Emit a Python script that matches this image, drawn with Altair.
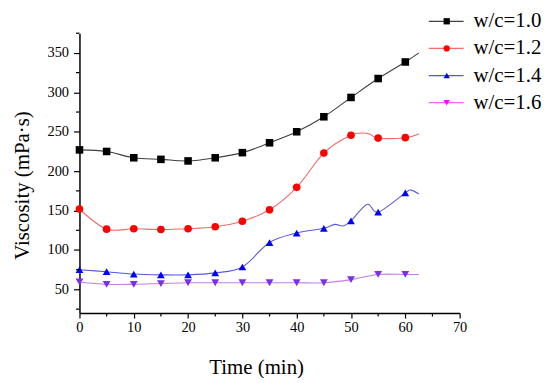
import altair as alt
import pandas as pd

series = ["w/c=1.0", "w/c=1.2", "w/c=1.4", "w/c=1.6"]

# marker readings
time = [0, 5, 10, 15, 20, 25, 30, 35, 40, 45, 50, 55, 60]
visc_10 = [227, 225, 217, 215, 213, 217, 223.5, 236, 250, 269, 293.5, 317.5, 338.5]
visc_12 = [152, 126.5, 127, 126, 127, 129.5, 136.5, 151, 179.5, 223, 245.5, 242, 242.5]
visc_14 = [75, 72.5, 69.5, 68.5, 68.5, 71, 78.5, 109.5, 121.5, 127.5, 137, 148, 172.5]
visc_16 = [59.5, 56.5, 56.5, 57.5, 58.5, 58.5, 58.5, 58.5, 58.5, 58.5, 62.5, 69, 69]

# fitted-curve readings (markers plus extra points)
line_time_10 = time + [62.5]
line_10 = visc_10 + [350]
line_time_12 = [0, 5, 10, 15, 20, 25, 30, 35, 40, 45, 50, 53, 55, 60, 62.5]
line_12 = [152, 126.5, 127, 126, 127, 129.5, 136.5, 151, 179.5, 223, 245.5, 248, 242, 242.5, 247]
line_time_14 = [0, 5, 10, 15, 20, 25, 30, 35, 40, 45, 47, 48.5, 50, 53, 55, 60, 61, 62.5]
line_14 = [75, 72.5, 69.5, 68.5, 68.5, 71, 78.5, 109.5, 121.5, 127.5, 132.5, 130.5, 137, 158, 148, 172.5, 176, 171]
line_time_16 = time + [62.5]
line_16 = visc_16 + [69]

y_major = [50, 100, 150, 200, 250, 300, 350]
y_minor = [25, 75, 125, 175, 225, 275, 325, 375]
x_major = [0, 10, 20, 30, 40, 50, 60, 70]
x_minor = [5, 15, 25, 35, 45, 55, 65]

marker_colors = ["#000000", "#ff0000", "#0000ff", "#7a30e8"]
line_colors = ["#404040", "#f06a6a", "#5a5ad8", "#c67ee6"]
legend_marker_colors = ["#000000", "#ff0000", "#0000ff", "#ff00ff"]
legend_line_colors = ["#404040", "#ff6a6a", "#5050ff", "#ff60ff"]
shapes = ["square", "circle", "triangle-up", "triangle-down"]
marker_sizes = [58, 62, 95, 95]

pts = pd.DataFrame(
    [(s, t, v) for s, vals in zip(series, [visc_10, visc_12, visc_14, visc_16]) for t, v in zip(time, vals)],
    columns=["series", "time", "visc"],
)
lines_rows = []
for s, ts, vs in zip(series, [line_time_10, line_time_12, line_time_14, line_time_16], [line_10, line_12, line_14, line_16]):
    for i, (t, v) in enumerate(zip(ts, vs)):
        lines_rows.append((s, t, v, i))
lns = pd.DataFrame(lines_rows, columns=["series", "time", "visc", "order"])

FONT = "Liberation Serif, Times New Roman, serif"
W, H = 383, 282

xscale = alt.Scale(domain=[0, 70], nice=False, zero=False)
yscale = alt.Scale(domain=[20, 375], nice=False, zero=False)

x_axis = alt.Axis(
    values=x_major, title="Time (min)", grid=False, tickSize=5, tickWidth=1.2, tickColor="black",
    domainColor="black", domainWidth=1.5, labelFont=FONT, labelFontSize=14.5, labelColor="black",
    labelPadding=3, labelFlush=False, titleFont=FONT, titleFontSize=21, titleFontWeight="normal",
    titleColor="black", titlePadding=22, titleX=178,
)
y_axis = alt.Axis(
    values=y_major, title="Viscosity (mPa·s)", grid=False, tickSize=6, tickWidth=1.2, tickColor="black",
    domainColor="black", domainWidth=1.5, labelFont=FONT, labelFontSize=14.5, labelColor="black",
    labelPadding=5, labelFlush=False, titleFont=FONT, titleFontSize=21, titleFontWeight="normal",
    titleColor="black", titlePadding=15, titleY=153,
)

lines = alt.Chart(lns).mark_line(interpolate="cardinal", strokeWidth=1.1).encode(
    x=alt.X("time:Q", scale=xscale, axis=x_axis),
    y=alt.Y("visc:Q", scale=yscale, axis=y_axis),
    color=alt.Color("series:N", scale=alt.Scale(domain=series, range=line_colors), legend=None),
    order="order:Q",
)

points = alt.Chart(pts).mark_point(filled=True, opacity=1).encode(
    x=alt.X("time:Q", scale=xscale),
    y=alt.Y("visc:Q", scale=yscale, axis=None),
    color=alt.Color("series:N", scale=alt.Scale(domain=series, range=marker_colors), legend=None),
    shape=alt.Shape("series:N", scale=alt.Scale(domain=series, range=shapes), legend=None),
    size=alt.Size("series:N", scale=alt.Scale(domain=series, range=marker_sizes), legend=None),
)

ymin = alt.Chart(pd.DataFrame({"v": y_minor})).mark_rule(color="black", strokeWidth=1.2).encode(
    y=alt.Y("v:Q", scale=yscale, axis=None), x=alt.value(-3.5), x2=alt.value(0)
)
xmin = alt.Chart(pd.DataFrame({"v": x_minor})).mark_rule(color="black", strokeWidth=1.2).encode(
    x=alt.X("v:Q", scale=xscale), y=alt.value(H), y2=alt.value(H + 3.5)
)

leg_df = pd.DataFrame({"series": series})
leg_y = alt.Y("series:N", scale=alt.Scale(type="point", domain=series, range=[-12, 70], padding=0), axis=None)
leg_rule = alt.Chart(leg_df).mark_rule(strokeWidth=1.2).encode(
    y=leg_y, x=alt.value(352), x2=alt.value(387),
    color=alt.Color("series:N", scale=alt.Scale(domain=series, range=legend_line_colors), legend=None),
)
leg_pt = alt.Chart(leg_df).mark_point(filled=True, opacity=1, size=40).encode(
    y=leg_y, x=alt.value(370),
    color=alt.Color("series:N", scale=alt.Scale(domain=series, range=legend_marker_colors), legend=None),
    shape=alt.Shape("series:N", scale=alt.Scale(domain=series, range=shapes), legend=None),
)
leg_txt = alt.Chart(leg_df).mark_text(align="left", baseline="middle", font=FONT, fontSize=21, color="black").encode(
    y=leg_y, x=alt.value(397), text="series:N"
)

chart = alt.layer(lines, points, ymin, xmin, leg_rule, leg_pt, leg_txt).resolve_scale(
    y="independent", color="independent", shape="independent", size="independent"
).properties(
    width=W, height=H,
    autosize=alt.AutoSizeParams(type="none"),
    padding={"left": 72, "top": 24, "right": 83, "bottom": 64},
).configure_view(stroke=None)

chart.save("out.html", embed_options={"renderer": "svg", "actions": False})
